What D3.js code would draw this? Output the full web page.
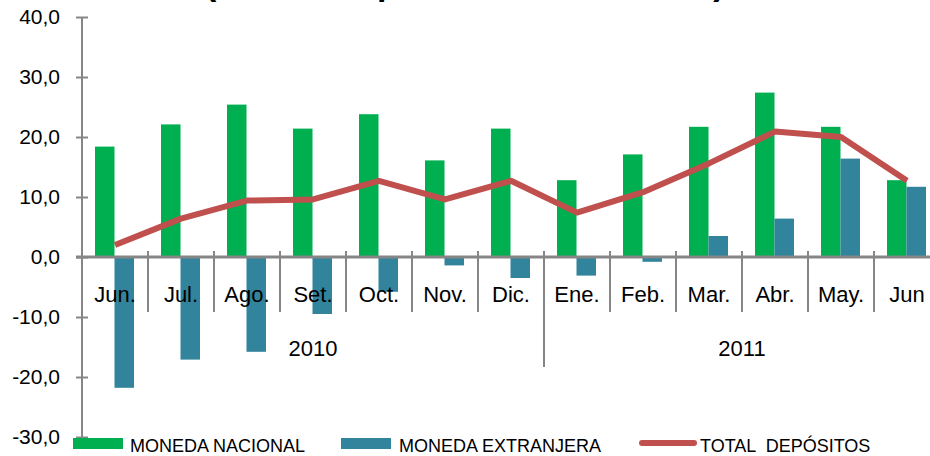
<!DOCTYPE html>
<html>
<head>
<meta charset="utf-8">
<script src="https://cdn.jsdelivr.net/npm/d3@7"></script>
<style>
  body { margin: 0; background: #fff; }
  svg { display: block; font-family: "Liberation Sans", Arial, sans-serif; }
</style>
</head>
<body>
<div id="chart"></div>
<script>
const months = ["Jun.", "Jul.", "Ago.", "Set.", "Oct.", "Nov.", "Dic.", "Ene.", "Feb.", "Mar.", "Abr.", "May.", "Jun"];
const years = [
  { label: "2010", first: 0, last: 6 },
  { label: "2011", first: 7, last: 12 }
];
const nacional = [18.4, 22.1, 25.4, 21.4, 23.8, 16.1, 21.4, 12.8, 17.1, 21.7, 27.4, 21.7, 12.8];
const extranjera = [-21.8, -17.1, -15.8, -9.5, -5.8, -1.4, -3.5, -3.1, -0.8, 3.5, 6.4, 16.4, 11.7];
const total = [2.0, 6.4, 9.4, 9.6, 12.7, 9.6, 12.7, 7.4, 10.8, 15.6, 20.9, 20.0, 12.7];
const yTicks = [-30, -20, -10, 0, 10, 20, 30, 40];
const seriesNames = ["MONEDA NACIONAL", "MONEDA EXTRANJERA", "TOTAL  DEPÓSITOS"];

const W = 930, H = 456;
const C_NAC = "#00B050", C_EXT = "#31849B", C_TOT = "#C0504D", C_AX = "#868686";

const svg = d3.select("#chart").append("svg")
  .attr("width", W).attr("height", H);

// title sits above the picture, only its descenders show
svg.append("text")
  .attr("x", 205).attr("y", -5)
  .attr("font-size", 34).attr("font-weight", "bold")
  .text("(Variación porcentual 12 meses)");

const x = d3.scaleBand().domain(d3.range(months.length)).range([82, 940]);
const xs = d3.scaleBand().domain([0, 1]).range([13, 52]);
const y = d3.scaleLinear().domain([-30, 40]).range([437, 17]);

const fmt = d => d3.format(".1f")(d).replace("−", "-").replace(".", ",");

// y axis
const yAxis = svg.append("g").attr("transform", "translate(82,0)")
  .call(d3.axisLeft(y).tickValues(yTicks).tickSize(0).tickPadding(22).tickFormat(fmt));
yAxis.select(".domain").remove();
yAxis.selectAll("text").attr("font-size", 21).attr("fill", "#000")
  .attr("font-family", "'Liberation Sans', Arial, sans-serif");
yAxis.selectAll(".tick").append("line")
  .attr("x1", -6).attr("x2", 6).attr("stroke", C_AX).attr("stroke-width", 2);
svg.append("line")
  .attr("x1", 82).attr("x2", 82).attr("y1", y(40)).attr("y2", y(-30))
  .attr("stroke", C_AX).attr("stroke-width", 2);

// bars
const g = svg.append("g");
g.selectAll("rect.nac").data(nacional).join("rect")
  .attr("class", "nac")
  .attr("x", (d, i) => x(i) + xs(0))
  .attr("width", xs.bandwidth())
  .attr("y", d => y(Math.max(0, d)))
  .attr("height", d => Math.abs(y(d) - y(0)))
  .attr("fill", C_NAC);
g.selectAll("rect.ext").data(extranjera).join("rect")
  .attr("class", "ext")
  .attr("x", (d, i) => x(i) + xs(1))
  .attr("width", xs.bandwidth())
  .attr("y", d => y(Math.max(0, d)))
  .attr("height", d => Math.abs(y(d) - y(0)))
  .attr("fill", C_EXT);

// zero line and category separators
svg.append("line")
  .attr("x1", 76).attr("x2", 940).attr("y1", y(0)).attr("y2", y(0))
  .attr("stroke", C_AX).attr("stroke-width", 3);
svg.selectAll("line.sep").data(d3.range(1, months.length)).join("line")
  .attr("class", "sep")
  .attr("x1", i => x(i)).attr("x2", i => x(i))
  .attr("y1", y(0) - 6)
  .attr("y2", i => i === years[1].first ? 367 : 312)
  .attr("stroke", C_AX).attr("stroke-width", 2);

// month labels
svg.selectAll("text.mon").data(months).join("text")
  .attr("class", "mon")
  .attr("x", (d, i) => x(i) + x.bandwidth() / 2)
  .attr("y", 302)
  .attr("text-anchor", "middle")
  .attr("font-size", 22)
  .text(d => d);

// year labels
svg.selectAll("text.yr").data(years).join("text")
  .attr("class", "yr")
  .attr("x", d => (x(d.first) + x(d.last) + x.bandwidth()) / 2)
  .attr("y", 356)
  .attr("text-anchor", "middle")
  .attr("font-size", 22)
  .text(d => d.label);

// total line
const line = d3.line()
  .x((d, i) => x(i) + x.bandwidth() / 2)
  .y(d => y(d));
svg.append("path").datum(total)
  .attr("d", line)
  .attr("fill", "none")
  .attr("stroke", C_TOT)
  .attr("stroke-width", 6)
  .attr("stroke-linejoin", "round");

// legend
const leg = svg.append("g");
leg.append("rect").attr("x", 73).attr("y", 438).attr("width", 50).attr("height", 11).attr("fill", C_NAC);
leg.append("text").attr("x", 130).attr("y", 451.5).attr("font-size", 18).text(seriesNames[0]);
leg.append("rect").attr("x", 341).attr("y", 438).attr("width", 50).attr("height", 11).attr("fill", C_EXT);
leg.append("text").attr("x", 399).attr("y", 451.5).attr("font-size", 18).text(seriesNames[1]);
leg.append("line").attr("x1", 642).attr("x2", 694).attr("y1", 443).attr("y2", 443)
  .attr("stroke", C_TOT).attr("stroke-width", 6).attr("stroke-linecap", "round");
leg.append("text").attr("x", 700).attr("y", 451.5).attr("font-size", 18)
  .style("white-space", "pre").text(seriesNames[2]);
</script>
</body>
</html>
